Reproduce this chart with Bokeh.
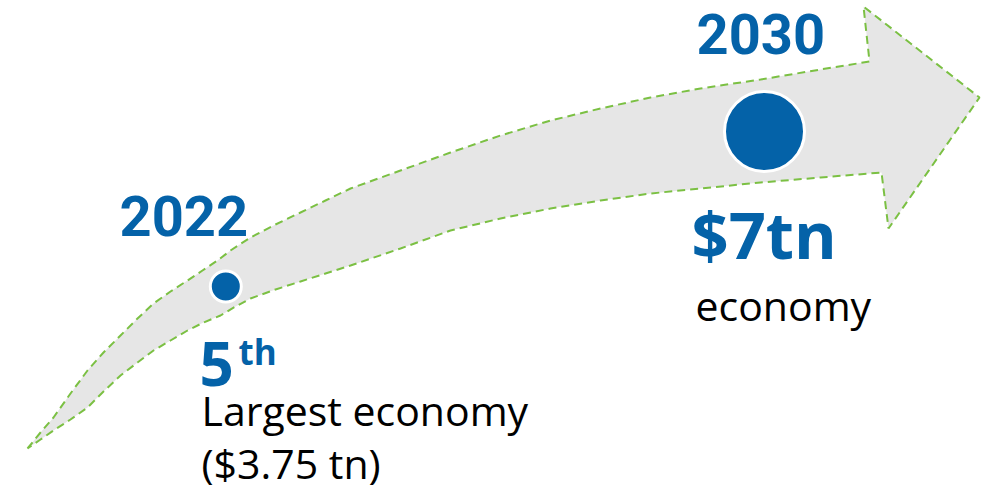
from bokeh.plotting import figure
from bokeh.models import Range1d, ColumnDataSource
from bokeh.core.properties import value
from bokeh.embed import file_html
from bokeh.resources import INLINE

# ---- data -------------------------------------------------------------
years = ["2022", "2030"]
headline = ["5", "$7tn"]
headline_sup = ["th", ""]
caption_2022 = ["Largest economy", "($3.75 tn)"]
caption_2030 = ["economy"]

# ---- shape of the arrow (outline vertices, screen-like coords) -------
upper_x = [27, 40, 53, 70, 87, 103, 120, 137, 153, 170, 187, 202, 217, 230, 250, 275, 300, 325, 350, 400, 450, 500, 550, 600, 650, 700, 760, 820, 869]
upper_y = [448, 432, 417, 393, 370, 352, 335, 318, 303, 291, 280, 270, 260, 250, 237, 224, 212, 200, 188, 170, 152, 135, 120, 108, 97, 88, 79, 69, 61]
head_x = [863, 979, 888]
head_y = [6, 97, 228]
lower_x = [881, 820, 760, 700, 650, 600, 550, 500, 450, 400, 350, 325, 300, 275, 250, 235, 220, 203, 187, 170, 153, 137, 120, 103, 87, 70, 53, 40, 27]
lower_y = [172, 177, 182, 188, 193, 200, 208, 218, 230, 248, 265, 273, 281, 289, 298, 306, 315, 322, 330, 340, 350, 362, 375, 391, 407, 419, 430, 439, 448]

BLUE = "#0462A8"
GREEN = "#7BC043"
GRAY = "#E6E6E6"

p = figure(width=992, height=490, x_range=Range1d(0, 992), y_range=Range1d(490, 0),
           output_backend="svg", toolbar_location=None, min_border=0)
p.axis.visible = False
p.grid.visible = False
p.outline_line_color = None
p.background_fill_color = "white"

ax = upper_x + head_x + lower_x
ay = upper_y + head_y + lower_y
p.patch(ax, ay, fill_color=GRAY, line_color=GREEN, line_width=2, line_dash="8 5")

# circles (2022 small, 2030 large)
circ = ColumnDataSource(dict(x=[225.3, 764], y=[286, 131], d=[31, 80]))
p.scatter("x", "y", size="d", source=circ, fill_color=BLUE, line_color="white", line_width=3)

def txt(x, y, s, size, color, bold=False, font="Open Sans"):
    # y is the wanted baseline; place the text by the middle of its capitals
    yy = y - 0.357 * size
    p.text(x=[x], y=[yy], text=[s], text_font=value(font), text_font_size=f"{size}px",
           text_color=color, text_font_style="bold" if bold else "normal",
           text_align="left", text_baseline="middle")

# year labels
txt(119, 235, years[0], 56, BLUE, True, "Roboto")
txt(696, 53, years[1], 56, BLUE, True, "Roboto")

# 2022 block
txt(199, 385, headline[0], 60, BLUE, True)
txt(238, 363, headline_sup[0], 35, BLUE, True)
txt(201, 424, caption_2022[0], 41, "black")
txt(201, 477, caption_2022[1], 41, "black")

# 2030 block
txt(691, 257, headline[1], 65, BLUE, True)
txt(695, 319, caption_2030[0], 41, "black")

open("out.html", "w").write(file_html(p, INLINE))
